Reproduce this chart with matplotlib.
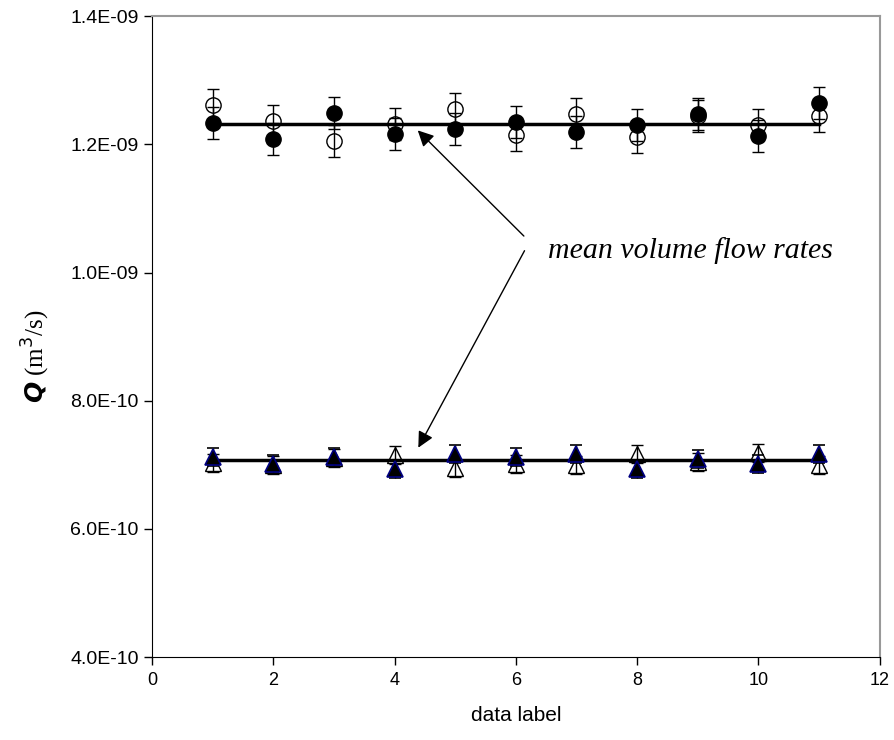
import numpy as np
import matplotlib.pyplot as plt

# data labels
label = np.arange(1, 12)

# upper set (circles), m^3/s
q_open_c = [1.262e-9, 1.237e-9, 1.206e-9, 1.232e-9, 1.256e-9, 1.214e-9,
            1.248e-9, 1.211e-9, 1.244e-9, 1.231e-9, 1.244e-9]
q_fill_c = [1.233e-9, 1.208e-9, 1.249e-9, 1.216e-9, 1.224e-9, 1.235e-9,
            1.219e-9, 1.231e-9, 1.247e-9, 1.213e-9, 1.264e-9]
err_c = 2.5e-11
mean_c = 1.232e-9

# lower set (triangles), m^3/s
q_open_t = [7.03e-10, 7.00e-10, 7.10e-10, 7.16e-10, 6.95e-10, 7.01e-10,
            7.00e-10, 7.17e-10, 7.04e-10, 7.18e-10, 7.00e-10]
q_fill_t = [7.13e-10, 7.02e-10, 7.12e-10, 6.93e-10, 7.17e-10, 7.12e-10,
            7.17e-10, 6.94e-10, 7.09e-10, 7.02e-10, 7.17e-10]
err_t = 1.4e-11
mean_t = 7.08e-10

fig = plt.figure(figsize=(8.94, 7.40), dpi=100)
ax = fig.add_axes([0.170, 0.112, 0.814, 0.866])

eb = dict(capsize=4.5, elinewidth=1.0, capthick=1.0, ecolor='black', linestyle='none')

# mean lines
ax.plot([label[0], label[-1]], [mean_c, mean_c], '-k', lw=2.5, zorder=2)
ax.plot([label[0], label[-1]], [mean_t, mean_t], '-k', lw=2.5, zorder=2)

ax.errorbar(label, q_open_c, yerr=err_c, marker='o', ms=11, mfc='none',
            mec='black', mew=1.0, zorder=3, **eb)
ax.errorbar(label, q_fill_c, yerr=err_c, marker='o', ms=11, mfc='black',
            mec='black', zorder=4, **eb)
ax.errorbar(label, q_open_t, yerr=err_t, marker='^', ms=11, mfc='none',
            mec='black', mew=1.0, zorder=3, **eb)
ax.errorbar(label, q_fill_t, yerr=err_t, marker='^', ms=11, mfc='black',
            mec='#000080', mew=1.2, zorder=4, **eb)

ax.set_xlim(0, 12)
ax.set_ylim(4e-10, 1.4e-9)
ax.set_xticks(np.arange(0, 13, 2))
yt = np.arange(4e-10, 1.41e-9, 2e-10)
ax.set_yticks(yt)
ax.set_yticklabels(['%.1E' % v for v in yt])
ax.tick_params(direction='out', length=6, width=1)
ax.tick_params(axis='y', labelsize=14)
ax.tick_params(axis='x', labelsize=13, pad=5)
for t in ax.get_xticklabels() + ax.get_yticklabels():
    t.set_fontfamily('Liberation Sans')
ax.spines['top'].set_color('#999999')
ax.spines['right'].set_color('#999999')
ax.spines['top'].set_linewidth(1.5)
ax.spines['right'].set_linewidth(1.5)

ax.set_xlabel('data label', fontsize=15, family='Liberation Sans', labelpad=12)
ax.set_ylabel(r'$\mathbfit{Q}$ (m$^3$/s)', fontsize=18, family='Liberation Serif')
ax.yaxis.set_label_coords(-0.137, 0.47)

# annotation
ax.text(6.53, 1.035e-9, 'mean volume flow rates', fontsize=21.5, style='italic',
        family='Liberation Serif', va='center', ha='left')
ax.annotate('', xy=(4.35, 1.225e-9), xytext=(6.165, 1.054e-9),
            arrowprops=dict(arrowstyle='-|>', color='black', lw=1.0, mutation_scale=24))
ax.annotate('', xy=(4.37, 7.23e-10), xytext=(6.165, 1.038e-9),
            arrowprops=dict(arrowstyle='-|>', color='black', lw=1.0, mutation_scale=24))

fig.savefig('out.png', dpi=100)
